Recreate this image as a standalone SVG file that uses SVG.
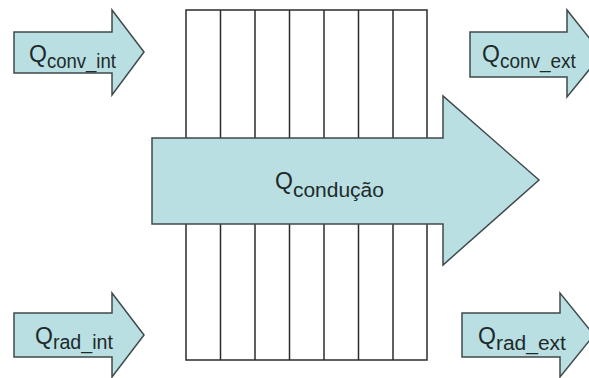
<svg xmlns="http://www.w3.org/2000/svg" width="589" height="378" viewBox="0 0 589 378">
<style>
.arr{fill:#b9dfe2;stroke:#3f4a4a;stroke-width:1.5;stroke-linejoin:miter}
.wall{fill:#ffffff;stroke:#2b2b2b;stroke-width:1.5}
.q{font-family:"Liberation Sans",Arial,sans-serif;font-size:23px;fill:#1d2a2a}
.s{font-family:"Liberation Sans",Arial,sans-serif;font-size:20px;fill:#1d2a2a}
</style>
<rect width="589" height="378" fill="#ffffff"/>
<g id="wall">
<rect class="wall" x="186" y="10" width="241" height="350"/>
<g stroke="#2b2b2b" stroke-width="1.5">
<line x1="220.5" y1="10" x2="220.5" y2="360"/>
<line x1="255" y1="10" x2="255" y2="360"/>
<line x1="289.5" y1="10" x2="289.5" y2="360"/>
<line x1="324" y1="10" x2="324" y2="360"/>
<line x1="358.5" y1="10" x2="358.5" y2="360"/>
<line x1="393" y1="10" x2="393" y2="360"/>
</g>
</g>
<g id="connectors">
<g id="q_conducao">
<polygon class="arr" points="152,138 443,138 443,96 539,180 443,265 443,224 152,224"/>
<text x="275" y="189"><tspan class="q">Q</tspan><tspan class="s" dy="8" textLength="91" lengthAdjust="spacingAndGlyphs">condução</tspan></text>
</g>
<g id="q_conv_int">
<polygon class="arr" points="14,32 112,32 112,10 144,52 112,95 112,73 14,73"/>
<text x="29" y="62"><tspan class="q">Q</tspan><tspan class="s" dy="6" textLength="69" lengthAdjust="spacingAndGlyphs">conv_int</tspan></text>
</g>
<g id="q_conv_ext">
<polygon class="arr" points="470,32 567,32 567,10 602,54 567,97 567,77 470,77"/>
<text x="482" y="62"><tspan class="q">Q</tspan><tspan class="s" dy="6" textLength="76" lengthAdjust="spacingAndGlyphs">conv_ext</tspan></text>
</g>
<g id="q_rad_int">
<polygon class="arr" points="14,313 112,313 112,293 144,335 112,377 112,357 14,357"/>
<text x="35" y="344"><tspan class="q">Q</tspan><tspan class="s" dy="5" textLength="60" lengthAdjust="spacingAndGlyphs">rad_int</tspan></text>
</g>
<g id="q_rad_ext">
<polygon class="arr" points="462,313 560,313 560,293 594,335 560,377 560,357 462,357"/>
<text x="478" y="344"><tspan class="q">Q</tspan><tspan class="s" dy="6" textLength="70" lengthAdjust="spacingAndGlyphs">rad_ext</tspan></text>
</g>
</g>
</svg>
